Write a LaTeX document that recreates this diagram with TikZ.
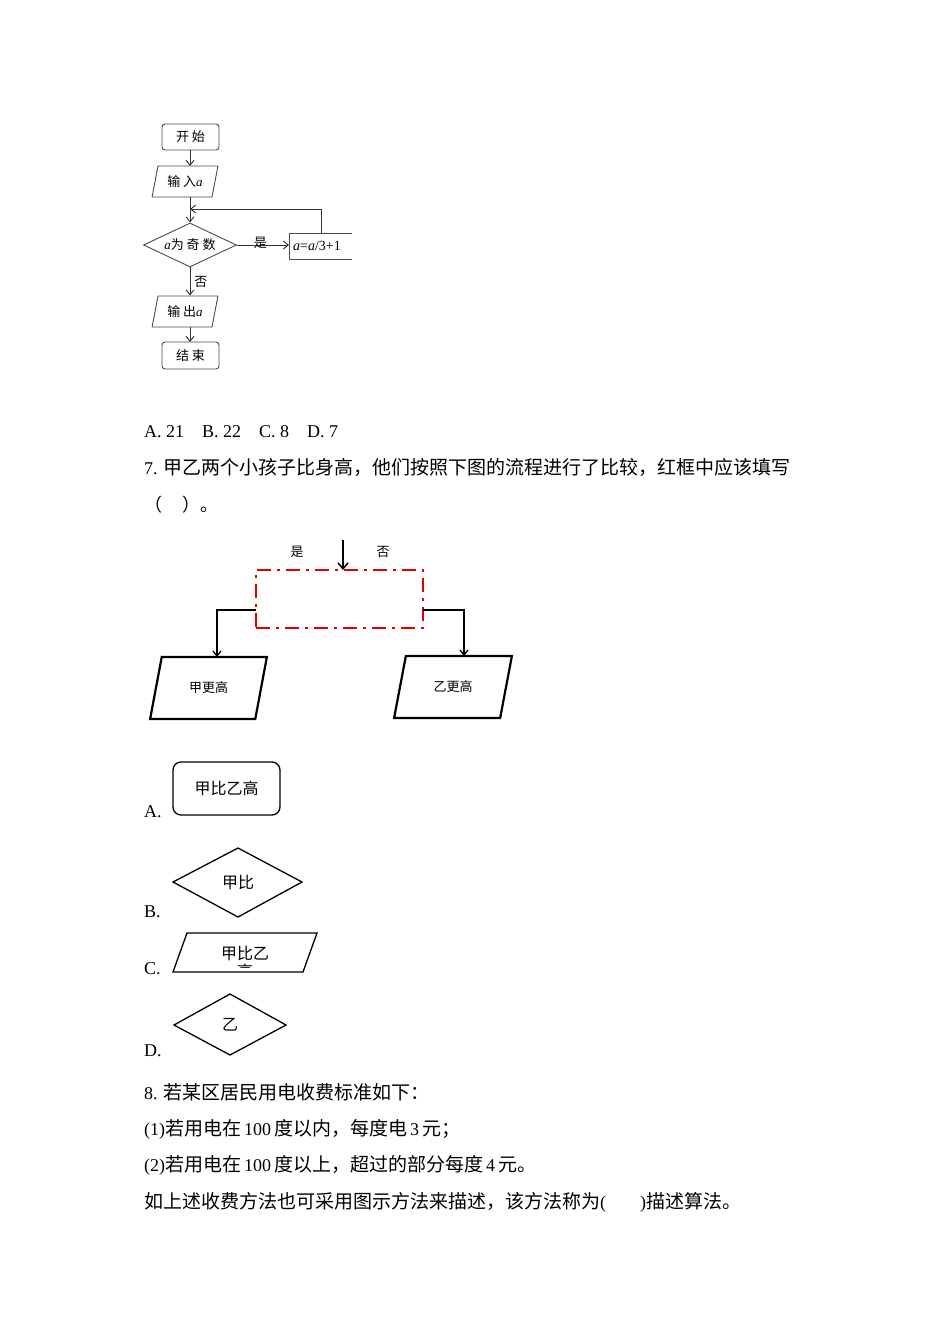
\documentclass[tikz,border=0pt]{standalone}
\usepackage{fontspec}
\setmainfont{Liberation Serif}
\newfontfamily\cjk{Noto Sans CJK SC}
\newfontfamily\lat{Liberation Serif}
\newcommand{\ia}{{\lat\itshape a}}
\usetikzlibrary{arrows.meta,shapes.geometric}
\begin{document}
\begin{tikzpicture}[x=1pt,y=-1pt,
  thin/.style={draw=black!70,line width=0.9pt},
  arr/.style={-{Straight Barb[length=5pt,width=8pt]},line width=0.9pt,draw=black!80},
  lbl/.style={font=\cjk\fontsize{13}{14}\selectfont,inner sep=0pt},
  body/.style={font=\fontsize{18}{20}\selectfont,anchor=west,inner sep=0pt},
  ck/.style={font=\cjk\fontsize{19}{20}\selectfont},
  thick2/.style={draw=black,line width=2.2pt}]
\useasboundingbox[fill=white] (0,0) rectangle (950,1344);
% flowchart 1
\node[thin,rounded corners=3pt,minimum width=57pt,minimum height=26pt,lbl] (s) at (190.5,137) {开 始};
\node[thin,trapezium,trapezium left angle=72,trapezium right angle=108,minimum width=66pt,minimum height=31pt,lbl,trapezium stretches=true] (in) at (185,181.5) {输 入\ia};
\node[thin,diamond,aspect=2.1,minimum width=93pt,minimum height=44pt,inner sep=0pt,lbl] (d) at (190,245) {\ia 为 奇 数};
\node[lbl,anchor=west,inner sep=4pt] (bx) at (289,246) {\lat\fontsize{14}{15}\selectfont\textit{a}=\textit{a}/3+1};
\draw[thin] (352,233) -- (289,233) -- (289,259) -- (352,259);
\node[thin,trapezium,trapezium left angle=72,trapezium right angle=108,minimum width=66pt,minimum height=31pt,lbl,trapezium stretches=true] (out) at (185,311.5) {输 出\ia};
\node[thin,rounded corners=3pt,minimum width=57pt,minimum height=27pt,lbl] (e) at (190.5,355.5) {结 束};
\coordinate (j) at (190,209);
\coordinate (bt) at (321,233);
\draw[arr] (190,150) -- (190,166);
\draw[arr] (d.north |- 0,197) -- (d.north);
\draw[arr] (d.east) -- node[above,lbl,pos=0.45,yshift=-4pt]{是} (289,245);
\draw[arr] (bt) -- (321,209) -- (j);
\draw[arr] (d.south) -- node[right,lbl,xshift=4pt]{否} (d.south |- out.north);
\draw[arr] (190,327) -- (190,342);
% text
\node[body] (t1) at (144,432) {A. 21\quad B. 22\quad C. 8\quad D. 7};
\node[body] (t2) at (144,467) {7. {\cjk\fontsize{19}{20}\selectfont 甲乙两个小孩子比身高，他们按照下图的流程进行了比较，红框中应该填写}};
\node[body] (t3) at (144,505) {\cjk （\hspace{20pt}）。};
% flowchart 2
\node[draw=red!90!black,line width=2.2pt,dash pattern=on 14pt off 6pt on 3pt off 6pt,minimum width=167pt,minimum height=58pt] (rb) at (339.5,599) {};
\coordinate (top) at (343,540);
\draw[-{Straight Barb[length=6pt,width=10pt]},line width=1.5pt] (top) -- (343,570);
\node[lbl] (y1) at (297,552) {是};
\node[lbl] (n1) at (383,552) {否};
\node[thick2,trapezium,trapezium left angle=68,trapezium right angle=112,trapezium stretches=true,minimum width=117pt,minimum height=62pt,lbl] (p1) at (208.5,688) {甲更高};
\node[thick2,trapezium,trapezium left angle=68,trapezium right angle=112,trapezium stretches=true,minimum width=118pt,minimum height=62pt,lbl] (p2) at (453,687) {乙更高};
\draw[arr,line width=1.3pt,draw=black] (256,610) -- (217,610) -- (217,657);
\draw[arr,line width=1.3pt,draw=black] (423,610) -- (464,610) -- (464,656);
% options
\node[body] (la) at (144,812) {A.};
\node[draw,line width=1.3pt,rounded corners=8pt,minimum width=107pt,minimum height=53pt,font=\cjk\fontsize{16}{17}\selectfont] (oa) at (226.5,788.5) {甲比乙高};
\node[body] (lb) at (144,912) {B.};
\draw[line width=1.3pt] (173,882) -- (238,848) -- (302,882) -- (238,917) -- cycle;
\node[font=\cjk\fontsize{16}{17}\selectfont] (ob) at (238,882) {甲比};
\node[body] (lc) at (144,969) {C.};
\draw[line width=1.3pt] (187,933) -- (317,933) -- (303,972) -- (173,972) -- cycle;
\begin{scope}
\clip (173,933) rectangle (317,967);
\node[font=\cjk\fontsize{16}{18}\selectfont,align=center,inner sep=0pt] (oc) at (245,962) {甲比乙\\高};
\end{scope}
\node[body] (ld) at (144,1051) {D.};
\draw[line width=1.3pt] (174,1025) -- (230,994) -- (286,1025) -- (230,1055) -- cycle;
\node[font=\cjk\fontsize{16}{17}\selectfont] (od) at (230,1025) {乙};
% q8
\node[body] (q1) at (144,1092) {8. {\cjk\fontsize{19}{20}\selectfont 若某区居民用电收费标准如下：}};
\node[body] (q2) at (144,1129) {(1){\cjk\fontsize{19}{20}\selectfont 若用电在}\,100\,{\cjk\fontsize{19}{20}\selectfont 度以内，每度电}\,3\,{\cjk\fontsize{19}{20}\selectfont 元；}};
\node[body] (q3) at (144,1165) {(2){\cjk\fontsize{19}{20}\selectfont 若用电在}\,100\,{\cjk\fontsize{19}{20}\selectfont 度以上，超过的部分每度}\,4\,{\cjk\fontsize{19}{20}\selectfont 元。}};
\node[body] (q4) at (144,1202) {{\cjk\fontsize{19}{20}\selectfont 如上述收费方法也可采用图示方法来描述，该方法称为}(\hspace{34pt}){\cjk\fontsize{19}{20}\selectfont 描述算法。}};
\end{tikzpicture}
\end{document}
